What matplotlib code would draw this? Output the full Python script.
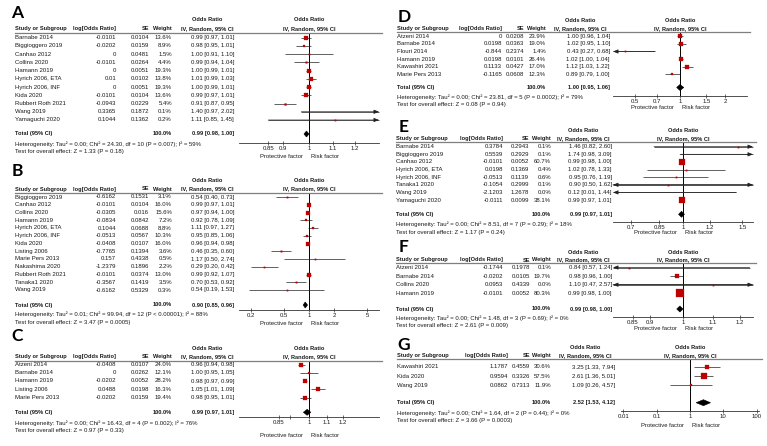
import numpy as np
import matplotlib
matplotlib.use('Agg')
import matplotlib.pyplot as plt
from matplotlib.transforms import blended_transform_factory as btf
from matplotlib.patches import Polygon
from matplotlib.lines import Line2D
from matplotlib.ticker import NullLocator

W, H = 767, 446
FONT = 'Liberation Sans'
LABFONT = 'Lato'
TXT = '#1a1a1a'
RED = '#c00000'
FS = 4.3
FSB = 4.1

# ---------------- data ----------------
A_study = ['Barnabe 2014', 'Biggioggero 2019', 'Canhao 2012', 'Collins 2020', 'Hamann 2019',
           'Hyrich 2006, ETA', 'Hyrich 2006, INF', 'Kida 2020', 'Rubbert Roth 2021', 'Wang 2019',
           'Yamaguchi 2020']
A_logor = [-0.0101, -0.0202, 0, -0.0101, 0, 0.01, 0, -0.0101, -0.0943, 0.3365, 0.1044]
A_se = [0.0104, 0.0159, 0.0481, 0.0264, 0.0051, 0.0102, 0.0051, 0.0104, 0.0229, 0.1872, 0.1362]
A_weight = [13.6, 8.9, 1.5, 4.4, 19.3, 13.8, 19.3, 13.6, 5.4, 0.1, 0.2]
A_or = [0.99, 0.98, 1.00, 0.99, 1.00, 1.01, 1.00, 0.99, 0.91, 1.40, 1.11]
A_lo = [0.97, 0.95, 0.91, 0.94, 0.99, 0.99, 0.99, 0.97, 0.87, 0.97, 0.85]
A_hi = [1.01, 1.01, 1.10, 1.04, 1.01, 1.03, 1.01, 1.01, 0.95, 2.02, 1.45]
A_total = [0.99, 0.98, 1.00]
A_het = 'Heterogeneity: Tau² = 0.00; Chi² = 24.30, df = 10 (P = 0.007); I² = 59%'
A_test = 'Test for overall effect: Z = 1.33 (P = 0.18)'
A_ticks = [0.85, 0.9, 1, 1.1, 1.2]
A_ticklabels = ['0.85', '0.9', '1', '1.1', '1.2']

B_study = ['Biggioggero 2019', 'Canhao 2012', 'Collins 2020', 'Hamann 2019', 'Hyrich 2006, ETA',
           'Hyrich 2006, INF', 'Kida 2020', 'Listing 2006', 'Marie Pers 2013', 'Nakashima 2020',
           'Rubbert Roth 2021', 'Tanaka1 2020', 'Wang 2019']
B_logor = [-0.6162, -0.0101, -0.0305, -0.0834, 0.1044, -0.0513, -0.0408, -0.7765, 0.157, -1.2379,
           -0.0101, -0.3567, -0.6162]
B_se = [0.1531, 0.0104, 0.016, 0.0842, 0.0688, 0.0567, 0.0107, 0.1394, 0.4338, 0.1896, 0.0374,
        0.1419, 0.5329]
B_weight = [3.1, 16.0, 15.6, 7.2, 8.8, 10.3, 16.0, 3.6, 0.5, 2.2, 13.0, 3.5, 0.3]
B_or = [0.54, 0.99, 0.97, 0.92, 1.11, 0.95, 0.96, 0.46, 1.17, 0.29, 0.99, 0.70, 0.54]
B_lo = [0.40, 0.97, 0.94, 0.78, 0.97, 0.85, 0.94, 0.35, 0.50, 0.20, 0.92, 0.53, 0.19]
B_hi = [0.73, 1.01, 1.00, 1.09, 1.27, 1.06, 0.98, 0.60, 2.74, 0.42, 1.07, 0.92, 1.53]
B_total = [0.90, 0.85, 0.96]
B_het = 'Heterogeneity: Tau² = 0.01; Chi² = 99.94, df = 12 (P < 0.00001); I² = 88%'
B_test = 'Test for overall effect: Z = 3.47 (P = 0.0005)'
B_ticks = [0.2, 0.5, 1, 2, 5]
B_ticklabels = ['0.2', '0.5', '1', '2', '5']

C_study = ['Atzeni 2014', 'Barnabe 2014', 'Hamann 2019', 'Listing 2006', 'Marie Pers 2013']
C_logor = [-0.0408, 0, -0.0202, 0.0488, -0.0202]
C_se = [0.0107, 0.0262, 0.0052, 0.0198, 0.0159]
C_weight = [24.0, 12.1, 28.2, 16.3, 19.4]
C_or = [0.96, 1.00, 0.98, 1.05, 0.98]
C_lo = [0.94, 0.95, 0.97, 1.01, 0.95]
C_hi = [0.98, 1.05, 0.99, 1.09, 1.01]
C_total = [0.99, 0.97, 1.01]
C_het = 'Heterogeneity: Tau² = 0.00; Chi² = 16.43, df = 4 (P = 0.002); I² = 76%'
C_test = 'Test for overall effect: Z = 0.97 (P = 0.33)'
C_ticks = [0.85, 0.9, 1, 1.1, 1.2]
C_ticklabels = ['0.85', '', '1', '1.1', '1.2']

D_study = ['Atzeni 2014', 'Barnabe 2014', 'Flouri 2014', 'Hamann 2019', 'Kawashiri 2021',
           'Marie Pers 2013']
D_logor = [0, 0.0198, -0.844, 0.0198, 0.1133, -0.1165]
D_se = [0.0208, 0.0363, 0.2374, 0.0101, 0.0427, 0.0608]
D_weight = [23.9, 19.0, 1.4, 26.4, 17.0, 12.3]
D_or = [1.00, 1.02, 0.43, 1.02, 1.12, 0.89]
D_lo = [0.96, 0.95, 0.27, 1.00, 1.03, 0.79]
D_hi = [1.04, 1.10, 0.68, 1.04, 1.22, 1.00]
D_total = [1.00, 0.95, 1.06]
D_het = 'Heterogeneity: Tau² = 0.00; Chi² = 23.81, df = 5 (P = 0.0002); I² = 79%'
D_test = 'Test for overall effect: Z = 0.08 (P = 0.94)'
D_ticks = [0.5, 0.7, 1, 1.5, 2]
D_ticklabels = ['0.5', '0.7', '1', '1.5', '2']

E_study = ['Barnabe 2014', 'Biggioggero 2019', 'Canhao 2012', 'Hyrich 2006, ETA', 'Hyrich 2006, INF',
           'Tanaka1 2020', 'Wang 2019', 'Yamaguchi 2020']
E_logor = [0.3784, 0.5539, -0.0101, 0.0198, -0.0513, -0.1054, -2.1203, -0.0111]
E_se = [0.2943, 0.2929, 0.0052, 0.1369, 0.1139, 0.2999, 1.2678, 0.0099]
E_weight = [0.1, 0.1, 60.7, 0.4, 0.6, 0.1, 0.0, 38.1]
E_or = [1.46, 1.74, 0.99, 1.02, 0.95, 0.90, 0.12, 0.99]
E_lo = [0.82, 0.98, 0.98, 0.78, 0.76, 0.50, 0.01, 0.97]
E_hi = [2.60, 3.09, 1.00, 1.33, 1.19, 1.62, 1.44, 1.01]
E_total = [0.99, 0.97, 1.01]
E_het = 'Heterogeneity: Tau² = 0.00; Chi² = 8.51, df = 7 (P = 0.29); I² = 18%'
E_test = 'Test for overall effect: Z = 1.17 (P = 0.24)'
E_ticks = [0.7, 0.85, 1, 1.2, 1.5]
E_ticklabels = ['0.7', '0.85', '1', '1.2', '1.5']

F_study = ['Atzeni 2014', 'Barnabe 2014', 'Collins 2020', 'Hamann 2019']
F_logor = [-0.1744, -0.0202, 0.0953, -0.0101]
F_se = [0.1978, 0.0105, 0.4339, 0.0052]
F_weight = [0.1, 19.7, 0.0, 80.3]
F_or = [0.84, 0.98, 1.10, 0.99]
F_lo = [0.57, 0.96, 0.47, 0.98]
F_hi = [1.24, 1.00, 2.57, 1.00]
F_total = [0.99, 0.98, 1.00]
F_het = 'Heterogeneity: Tau² = 0.00; Chi² = 1.48, df = 3 (P = 0.69); I² = 0%'
F_test = 'Test for overall effect: Z = 2.61 (P = 0.009)'
F_ticks = [0.85, 0.9, 1, 1.1, 1.2]
F_ticklabels = ['0.85', '0.9', '1', '1.1', '1.2']

G_study = ['Kawashiri 2021', 'Kida 2020', 'Wang 2019']
G_logor = [1.1787, 0.9594, 0.0862]
G_se = [0.4559, 0.3326, 0.7313]
G_weight = [30.6, 57.5, 11.9]
G_or = [3.25, 2.61, 1.09]
G_lo = [1.33, 1.36, 0.26]
G_hi = [7.94, 5.01, 4.57]
G_total = [2.52, 1.53, 4.12]
G_het = 'Heterogeneity: Tau² = 0.00; Chi² = 1.64, df = 2 (P = 0.44); I² = 0%'
G_test = 'Test for overall effect: Z = 3.66 (P = 0.0003)'
G_ticks = [0.01, 0.1, 1, 10, 100]
G_ticklabels = ['0.01', '0.1', '1', '10', '100']

# ---------------- layout (pixels) ----------------
LEFTX = dict(x_study=15, x_log=116, x_se=149, x_w=172, x_ci=234, orh_x=207, c=309, hw=70)
LA = dict(LEFTX, d=250, lab=(17, 13), orh_y=20, hdr_y=29, line_y=33, row0=37.7, s=8.23,
          total_y=134, axis_y=143, het_y=144, test_y=152, pf_y=157)
LB = dict(LEFTX, d=36, lab=(17, 171), orh_y=180, hdr_y=189, line_y=193, row0=197, s=7.75,
          total_y=305, axis_y=310, het_y=314.3, test_y=322.3, pf_y=323.3)
LC = dict(LEFTX, d=185, lab=(17, 336), orh_y=349, hdr_y=356.7, line_y=360.7, row0=364.5, s=8.25,
          total_y=412.3, axis_y=417, het_y=423.3, test_y=430.7, pf_y=435.7)
LD = dict(x_study=397, x_log=502, x_se=524.5, x_w=546, x_ci=610, orh_x=580, c=680, hw=67,
          d=65, lab=(404, 17), orh_y=20.7, hdr_y=28.3, line_y=32.3, row0=36.3, s=7.6,
          total_y=87.5, axis_y=96, het_y=96.7, test_y=104.3, pf_y=107.7)
LE = dict(x_study=396, x_log=503, x_se=529, x_w=551, x_ci=612, orh_x=583, c=683, hw=70,
          d=146, lab=(404, 127), orh_y=130.7, hdr_y=138.3, line_y=141.7, row0=146.7, s=7.62,
          total_y=214.3, axis_y=222.3, het_y=224.3, test_y=232.3, pf_y=232.7)
LF = dict(x_study=396, x_log=503, x_se=530, x_w=551, x_ci=612, orh_x=583, c=683, hw=70,
          d=310, lab=(404, 247), orh_y=252.3, hdr_y=260, line_y=263.3, row0=267.5, s=8.6,
          total_y=309, axis_y=317.3, het_y=317.7, test_y=326, pf_y=329)
LG = dict(x_study=397, x_log=508, x_se=530, x_w=551, x_ci=615, orh_x=585, c=690, hw=69,
          d=14.5, lab=(404, 345), orh_y=347.7, hdr_y=355.7, line_y=359.3, row0=367, s=9.2,
          total_y=402.7, axis_y=411, het_y=412.7, test_y=420.7, pf_y=425.7)

fig = plt.figure(figsize=(W / 100, H / 100), dpi=100)
fig.patch.set_facecolor('white')


def draw_panel(letter, study, logor, se, weight, orv, lo, hi, total, het, test, ticks, ticklabels, L):
    n = len(study)
    s, row0 = L['s'], L['row0']
    ytop = (L['line_y'] - row0) / s
    ybot = (L['axis_y'] - row0) / s
    left = L['c'] - L['hw']
    ax = fig.add_axes([left / W, 1 - L['axis_y'] / H, 2 * L['hw'] / W,
                       (L['axis_y'] - L['line_y']) / H])
    ax.set_xscale('log')
    xmin, xmax = np.exp(-L['hw'] / L['d']), np.exp(L['hw'] / L['d'])
    ax.set_xlim(xmin, xmax)
    ax.set_ylim(ybot, ytop)
    ax.patch.set_alpha(0)
    for sp in ['top', 'left', 'right']:
        ax.spines[sp].set_visible(False)
    ax.spines['bottom'].set_linewidth(0.6)
    ax.spines['bottom'].set_color('#333333')
    ax.set_yticks([])
    ax.set_xticks(ticks)
    ax.set_xticklabels(ticklabels)
    ax.xaxis.set_minor_locator(NullLocator())
    ax.tick_params(axis='x', direction='inout', length=3, width=0.5, pad=0.8,
                   labelsize=4.3, colors='#333333', labelcolor=TXT)
    for t in ax.get_xticklabels():
        t.set_fontfamily(FONT)
    ax.axvline(1, color='k', lw=0.7)

    T = btf(fig.transFigure, ax.transData)

    def txt(xp, yp, s_, ha='left', bold=False, size=None):
        ax.text(xp / W, (yp - row0) / s, s_, transform=T, ha=ha, va='center',
                fontsize=size or (FSB if bold else FS), fontweight='bold' if bold else 'normal',
                family=FONT, color=TXT, clip_on=False)

    # panel letter
    fig.text(L['lab'][0] / W, 1 - L['lab'][1] / H, letter, ha='center', va='center',
             fontsize=12.5, fontweight='bold', family=LABFONT, color='black')
    # headers
    txt(L['orh_x'], L['orh_y'], 'Odds Ratio', ha='center', bold=True)
    txt(L['c'], L['orh_y'], 'Odds Ratio', ha='center', bold=True)
    txt(L['x_study'], L['hdr_y'], 'Study or Subgroup', bold=True)
    txt(L['x_log'], L['hdr_y'], 'log[Odds Ratio]', ha='right', bold=True)
    txt(L['x_se'], L['hdr_y'], 'SE', ha='right', bold=True)
    txt(L['x_w'], L['hdr_y'], 'Weight', ha='right', bold=True)
    txt(L['orh_x'], L['hdr_y'], 'IV, Random, 95% CI', ha='center', bold=True)
    txt(L['c'], L['hdr_y'], 'IV, Random, 95% CI', ha='center', bold=True)
    ax.add_line(Line2D([L['x_study'] / W, (L['c'] + L['hw'] + 3) / W], [ytop, ytop],
                       transform=T, color='#7f7f7f', lw=0.9, clip_on=False))

    for i in range(n):
        txt(L['x_study'], row0 + i * s, study[i])
        txt(L['x_log'], row0 + i * s, f'{logor[i]:g}', ha='right')
        txt(L['x_se'], row0 + i * s, f'{se[i]:g}', ha='right')
        txt(L['x_w'], row0 + i * s, f'{weight[i]:.1f}%', ha='right')
        txt(L['x_ci'], row0 + i * s, f'{orv[i]:.2f} [{lo[i]:.2f}, {hi[i]:.2f}]', ha='right')
        lc, hc = max(lo[i], xmin), min(hi[i], xmax)
        ax.plot([lc, hc], [i, i], color='#222222', lw=0.5, solid_capstyle='butt', clip_on=False)
        if hi[i] > xmax:
            ax.annotate('', xy=(xmax, i), xytext=(lc, i),
                        arrowprops=dict(arrowstyle='-|>,head_length=0.3,head_width=0.12',
                                        lw=0.5, color='#222222', shrinkA=0, shrinkB=0),
                        annotation_clip=False)
        if lo[i] < xmin:
            ax.annotate('', xy=(xmin, i), xytext=(hc, i),
                        arrowprops=dict(arrowstyle='-|>,head_length=0.3,head_width=0.12',
                                        lw=0.5, color='#222222', shrinkA=0, shrinkB=0),
                        annotation_clip=False)
        if xmin <= orv[i] <= xmax:
            ms = max(0.6 * np.sqrt(weight[i]), 1.0)
            ax.plot([orv[i]], [i], marker='s', ms=ms, color=RED, mec=RED, mew=0.2,
                    linestyle='none', zorder=4)

    ty = (L['total_y'] - row0) / s
    hh = 3.0 / s
    ax.add_patch(Polygon([(total[1], ty), (total[0], ty - hh), (total[2], ty), (total[0], ty + hh)],
                         closed=True, facecolor='black', edgecolor='black', lw=0.4, zorder=5,
                         clip_on=False))
    txt(L['x_study'], L['total_y'], 'Total (95% CI)', bold=True)
    txt(L['x_w'], L['total_y'], '100.0%', ha='right', bold=True)
    txt(L['x_ci'], L['total_y'], f'{total[0]:.2f} [{total[1]:.2f}, {total[2]:.2f}]', ha='right',
        bold=True)
    txt(L['x_study'], L['het_y'], het)
    txt(L['x_study'], L['test_y'], test)
    txt(L['c'] - 6, L['pf_y'], 'Protective factor', ha='right', size=4.2)
    txt(L['c'] + 2, L['pf_y'], 'Risk factor', ha='left', size=4.2)


draw_panel('A', A_study, A_logor, A_se, A_weight, A_or, A_lo, A_hi, A_total, A_het, A_test,
           A_ticks, A_ticklabels, LA)
draw_panel('B', B_study, B_logor, B_se, B_weight, B_or, B_lo, B_hi, B_total, B_het, B_test,
           B_ticks, B_ticklabels, LB)
draw_panel('C', C_study, C_logor, C_se, C_weight, C_or, C_lo, C_hi, C_total, C_het, C_test,
           C_ticks, C_ticklabels, LC)
draw_panel('D', D_study, D_logor, D_se, D_weight, D_or, D_lo, D_hi, D_total, D_het, D_test,
           D_ticks, D_ticklabels, LD)
draw_panel('E', E_study, E_logor, E_se, E_weight, E_or, E_lo, E_hi, E_total, E_het, E_test,
           E_ticks, E_ticklabels, LE)
draw_panel('F', F_study, F_logor, F_se, F_weight, F_or, F_lo, F_hi, F_total, F_het, F_test,
           F_ticks, F_ticklabels, LF)
draw_panel('G', G_study, G_logor, G_se, G_weight, G_or, G_lo, G_hi, G_total, G_het, G_test,
           G_ticks, G_ticklabels, LG)

fig.savefig('out.png', dpi=100, facecolor='white')
